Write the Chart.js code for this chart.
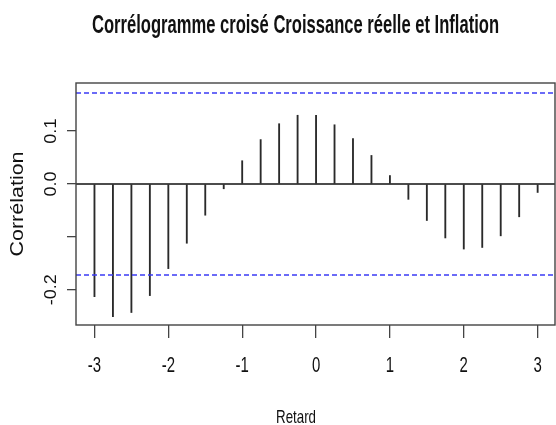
<!DOCTYPE html>
<html>
<head>
<meta charset="utf-8">
<script src="https://cdn.jsdelivr.net/npm/chart.js@4"></script>
<style>
  html, body { margin: 0; padding: 0; background: #fff; }
  #wrap { width: 556px; height: 425px; }
</style>
</head>
<body>
<div id="wrap"><canvas id="ccfChart" width="556" height="425"></canvas></div>
<script>
// data
const lags = [-3, -2.75, -2.5, -2.25, -2, -1.75, -1.5, -1.25, -1, -0.75, -0.5, -0.25,
              0, 0.25, 0.5, 0.75, 1, 1.25, 1.5, 1.75, 2, 2.25, 2.5, 2.75, 3];
const ccfValues = [-0.213, -0.251, -0.243, -0.211, -0.160, -0.112, -0.059, -0.009,
                   0.044, 0.084, 0.114, 0.130, 0.130, 0.112, 0.086, 0.054, 0.016,
                   -0.029, -0.069, -0.102, -0.123, -0.120, -0.098, -0.062, -0.016];
const ciLimit = 0.172;
const xTicks = [-3, -2, -1, 0, 1, 2, 3];
const xTickLabels = ['-3', '-2', '-1', '0', '1', '2', '3'];
const yTicks = [-0.2, -0.1, 0, 0.1];
const yTickLabels = ['-0.2', '', '0.0', '0.1'];

const titleText = 'Corrélogramme croisé Croissance réelle et Inflation';
const xTitle = 'Retard';
const yTitle = 'Corrélation';

const xMin = -3.25, xMax = 3.235;
const yMin = -0.2666, yMax = 0.191;

function drawText(ctx, txt, x, y, font, sx, sy, rot, align) {
    ctx.save();
    ctx.translate(x, y);
    ctx.rotate(rot || 0);
    ctx.scale(sx, sy);
    ctx.font = font;
    ctx.textAlign = align || 'center';
    ctx.textBaseline = 'alphabetic';
    ctx.fillStyle = '#111';
    ctx.fillText(txt, 0, 0);
    ctx.restore();
}

const rPlot = {
    id: 'rPlot',
    beforeDatasetsDraw(chart) {
        const { ctx, chartArea: a, scales } = chart;
        // zero line
        const y0 = scales.y.getPixelForValue(0);
        ctx.save();
        ctx.strokeStyle = '#111';
        ctx.lineWidth = 1.3;
        ctx.beginPath();
        ctx.moveTo(a.left, y0);
        ctx.lineTo(a.right, y0);
        ctx.stroke();
        ctx.restore();
    },
    afterDraw(chart) {
        const { ctx, chartArea: a, scales } = chart;
        ctx.save();
        ctx.strokeStyle = '#444';
        ctx.lineWidth = 1.4;
        ctx.strokeRect(a.left, a.top, a.right - a.left, a.bottom - a.top);
        ctx.restore();

        // title
        ctx.save();
        ctx.font = 'bold 25px "Liberation Sans", Arial, sans-serif';
        const tw = ctx.measureText(titleText).width;
        ctx.restore();
        drawText(ctx, titleText, 295.5, 33, 'bold 25px "Liberation Sans", Arial, sans-serif', 407 / tw, 1, 0);

        // x tick labels
        xTicks.forEach((v, i) => {
            drawText(ctx, xTickLabels[i], scales.x.getPixelForValue(v), 372,
                '22px "Liberation Sans", Arial, sans-serif', 0.68, 1, 0);
        });
        // y tick labels (rotated like R)
        yTicks.forEach((v, i) => {
            if (!yTickLabels[i]) return;
            drawText(ctx, yTickLabels[i], 56, scales.y.getPixelForValue(v),
                '18px "Liberation Sans", Arial, sans-serif', 1, 0.95, -Math.PI / 2);
        });
        // axis titles
        drawText(ctx, xTitle, 296, 423, '18.5px "Liberation Sans", Arial, sans-serif', 0.72, 1, 0);
        drawText(ctx, yTitle, 23, (a.top + a.bottom) / 2,
            '21.5px "Liberation Sans", Arial, sans-serif', 1, 0.85, -Math.PI / 2);
    }
};

const ctx = document.getElementById('ccfChart').getContext('2d');
new Chart(ctx, {
    type: 'bar',
    data: {
        datasets: [{
            type: 'bar',
            data: lags.map((l, i) => ({ x: l, y: ccfValues[i] })),
            backgroundColor: '#2a2a2a',
            barThickness: 1.2,
            order: 2
        }, {
            type: 'line',
            data: [{ x: xMin, y: ciLimit }, { x: xMax, y: ciLimit }],
            borderColor: '#3b3bf5',
            borderWidth: 1.5,
            borderDash: [5, 3],
            pointRadius: 0,
            fill: false,
            order: 1
        }, {
            type: 'line',
            data: [{ x: xMin, y: -ciLimit }, { x: xMax, y: -ciLimit }],
            borderColor: '#3b3bf5',
            borderWidth: 1.5,
            borderDash: [5, 3],
            pointRadius: 0,
            fill: false,
            order: 1
        }]
    },
    options: {
        responsive: false,
        animation: false,
        layout: { padding: { top: 83, right: 1, left: 0, bottom: 0 } },
        plugins: {
            legend: { display: false },
            tooltip: { enabled: false }
        },
        scales: {
            x: {
                type: 'linear',
                offset: false,
                min: xMin,
                max: xMax,
                afterBuildTicks: s => { s.ticks = xTicks.map(v => ({ value: v })); },
                afterFit: s => { s.height = 100; },
                ticks: { display: false },
                grid: { offset: false, drawOnChartArea: false, drawTicks: true, tickLength: 13, color: '#444', lineWidth: 1.3 },
                border: { display: false }
            },
            y: {
                min: yMin,
                max: yMax,
                afterBuildTicks: s => { s.ticks = yTicks.map(v => ({ value: v })); },
                afterFit: s => { s.width = 76; },
                ticks: { display: false },
                grid: { drawOnChartArea: false, drawTicks: true, tickLength: 9, color: '#444', lineWidth: 1.3 },
                border: { display: false }
            }
        }
    },
    plugins: [rPlot]
});
</script>
</body>
</html>
